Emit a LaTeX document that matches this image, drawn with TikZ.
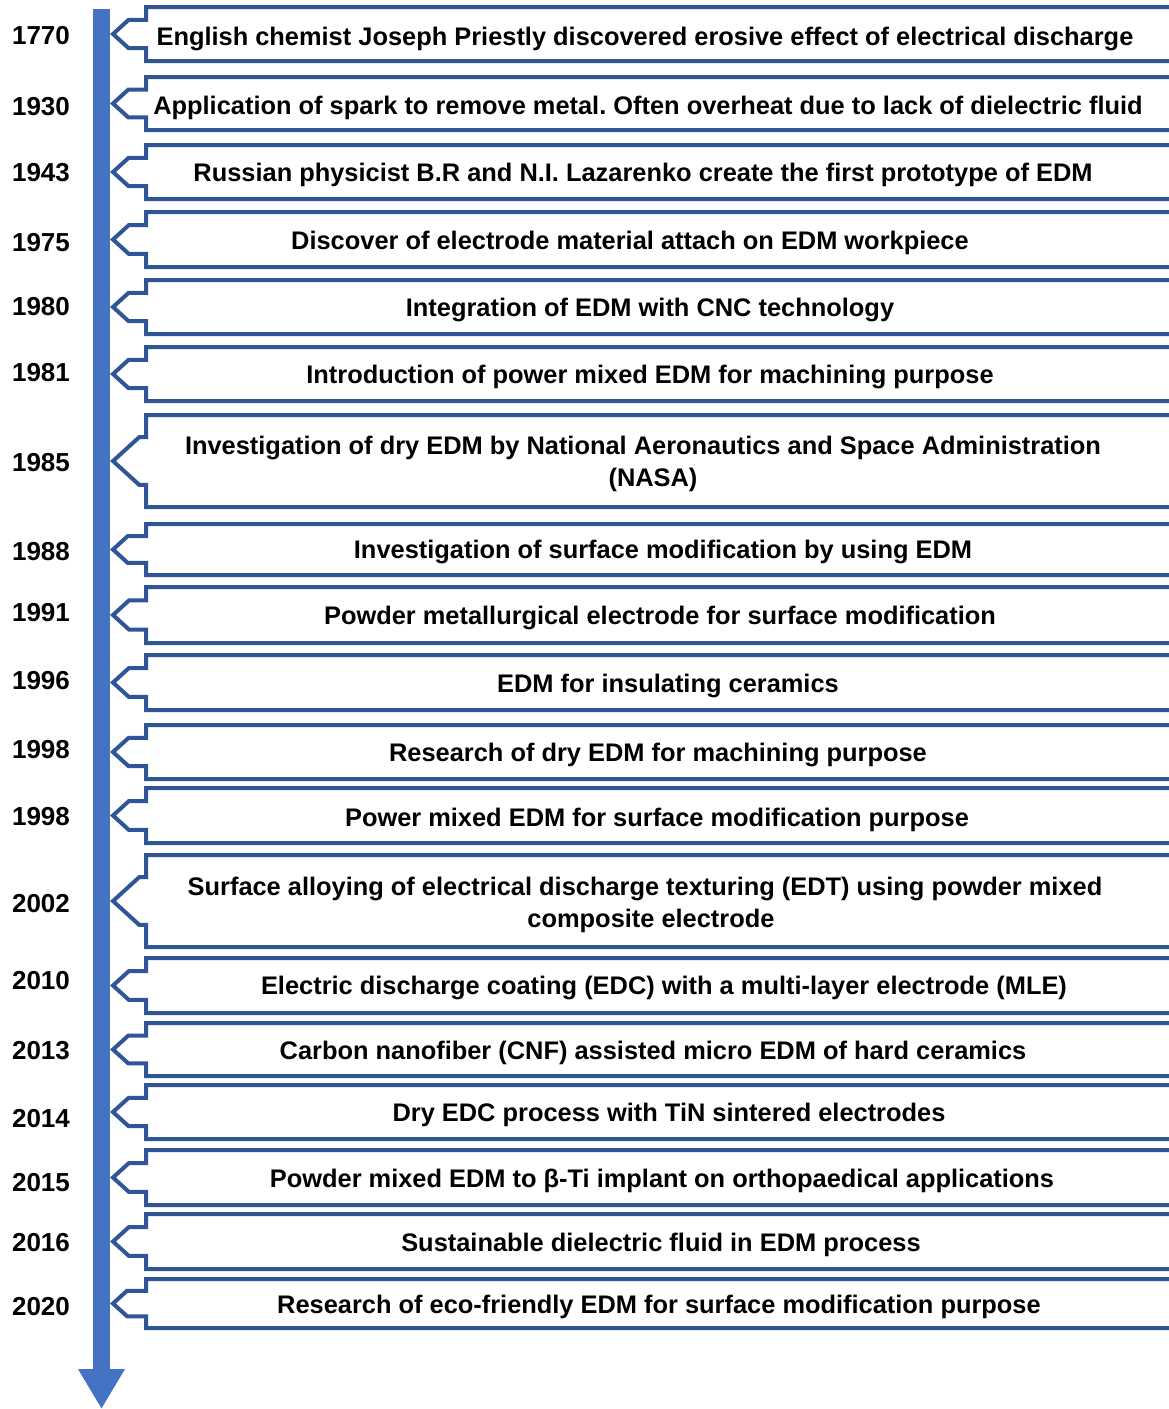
\documentclass[tikz,border=0pt]{standalone}
\usepackage{fontspec}
\setmainfont{Liberation Sans}
\usetikzlibrary{arrows.meta}
\frenchspacing

\definecolor{edgeblue}{HTML}{2F5597}
\definecolor{shaftblue}{HTML}{4472C4}

\tikzset{
  callout/.style={draw=edgeblue, line width=4pt, fill=white, line join=miter},
  event/.style={inner sep=0pt, align=center, yshift=-2.5pt, font=\fontsize{25.4}{32}\selectfont\bfseries},
  year/.style={inner sep=0pt, font=\fontsize{26}{30}\selectfont\bfseries},
  timeline/.style={draw=shaftblue, line width=17pt, -{Triangle[width=44pt, length=40pt]}}
}

% box with the notch pointing at the time line: top, bottom
\newcommand{\eventbox}[2]{%
  \pgfmathsetmacro{\evmid}{(#1+#2)/2}%
  \pgfmathsetmacro{\evd}{0.26*(#2-#1)}%
  \pgfmathsetmacro{\evx}{113+1.1*\evd}%
  \draw[callout] (146,#1) -- (1180,#1) -- (1180,#2) -- (146,#2) -- (146,\evmid+\evd)
    -- (\evx,\evmid+\evd) -- (113,\evmid) -- (\evx,\evmid-\evd) -- (146,\evmid-\evd) -- cycle;}

\begin{document}
\begin{tikzpicture}[x=1pt, y=-1pt]
    \useasboundingbox (0,0) rectangle (1169,1409);
    \clip (0,0) rectangle (1169,1409);

    % time line
    \coordinate (start) at (101.5,9);
    \coordinate (end) at (101.5,1409);
    \draw[timeline] (start) -- (end);

    \eventbox{7}{61}
    \node[event] (e1770) at (645,36) {English chemist Joseph Priestly discovered erosive effect of electrical discharge};
    \node[year] (y1770) at (41,36) {1770};

    \eventbox{77}{130}
    \node[event] (e1930) at (648,105) {Application of spark to remove metal. Often overheat due to lack of dielectric fluid};
    \node[year] (y1930) at (41,107) {1930};

    \eventbox{145}{199}
    \node[event] (e1943) at (643,172) {Russian physicist B.R and N.I. Lazarenko create the first prototype of EDM};
    \node[year] (y1943) at (41,173) {1943};

    \eventbox{212}{267}
    \node[event] (e1975) at (630,240) {Discover of electrode material attach on EDM workpiece};
    \node[year] (y1975) at (41,243) {1975};

    \eventbox{280}{334}
    \node[event] (e1980) at (650,307) {Integration of EDM with CNC technology};
    \node[year] (y1980) at (41,307) {1980};

    \eventbox{347}{401}
    \node[event] (e1981) at (650,374) {Introduction of power mixed EDM for machining purpose};
    \node[year] (y1981) at (41,373) {1981};

    \eventbox{415}{507}
    \node[event] (e1985) at (643,461) {Investigation of dry EDM by National Aeronautics and Space Administration\\\hspace*{20pt}(NASA)};
    \node[year] (y1985) at (41,463) {1985};

    \eventbox{524}{575}
    \node[event] (e1988) at (663,549) {Investigation of surface modification by using EDM};
    \node[year] (y1988) at (41,552) {1988};

    \eventbox{587}{643}
    \node[event] (e1991) at (660,615) {Powder metallurgical electrode for surface modification};
    \node[year] (y1991) at (41,613) {1991};

    \eventbox{655}{710}
    \node[event] (e1996) at (668,683) {EDM for insulating ceramics};
    \node[year] (y1996) at (41,681) {1996};

    \eventbox{725}{779}
    \node[event] (e1998a) at (658,752) {Research of dry EDM for machining purpose};
    \node[year] (y1998a) at (41,750) {1998};

    \eventbox{788}{843}
    \node[event] (e1998b) at (657,817) {Power mixed EDM for surface modification purpose};
    \node[year] (y1998b) at (41,817) {1998};

    \eventbox{855}{947}
    \node[event] (e2002) at (645,902) {Surface alloying of electrical discharge texturing (EDT) using powder mixed\\\hspace*{12pt}composite electrode};
    \node[year] (y2002) at (41,904) {2002};

    \eventbox{958}{1013}
    \node[event] (e2010) at (664,985) {Electric discharge coating (EDC) with a multi-layer electrode (MLE)};
    \node[year] (y2010) at (41,981) {2010};

    \eventbox{1023}{1076}
    \node[event] (e2013) at (653,1050) {Carbon nanofiber (CNF) assisted micro EDM of hard ceramics};
    \node[year] (y2013) at (41,1051) {2013};

    \eventbox{1085}{1139}
    \node[event] (e2014) at (669,1112) {Dry EDC process with TiN sintered electrodes};
    \node[year] (y2014) at (41,1119) {2014};

    \eventbox{1150}{1205}
    \node[event] (e2015) at (662,1178) {Powder mixed EDM to β-Ti implant on orthopaedical applications};
    \node[year] (y2015) at (41,1183) {2015};

    \eventbox{1214}{1269}
    \node[event] (e2016) at (661,1242) {Sustainable dielectric fluid in EDM process};
    \node[year] (y2016) at (41,1243) {2016};

    \eventbox{1279}{1328}
    \node[event] (e2020) at (659,1304) {Research of eco-friendly EDM for surface modification purpose};
    \node[year] (y2020) at (41,1307) {2020};

\end{tikzpicture}
\end{document}
